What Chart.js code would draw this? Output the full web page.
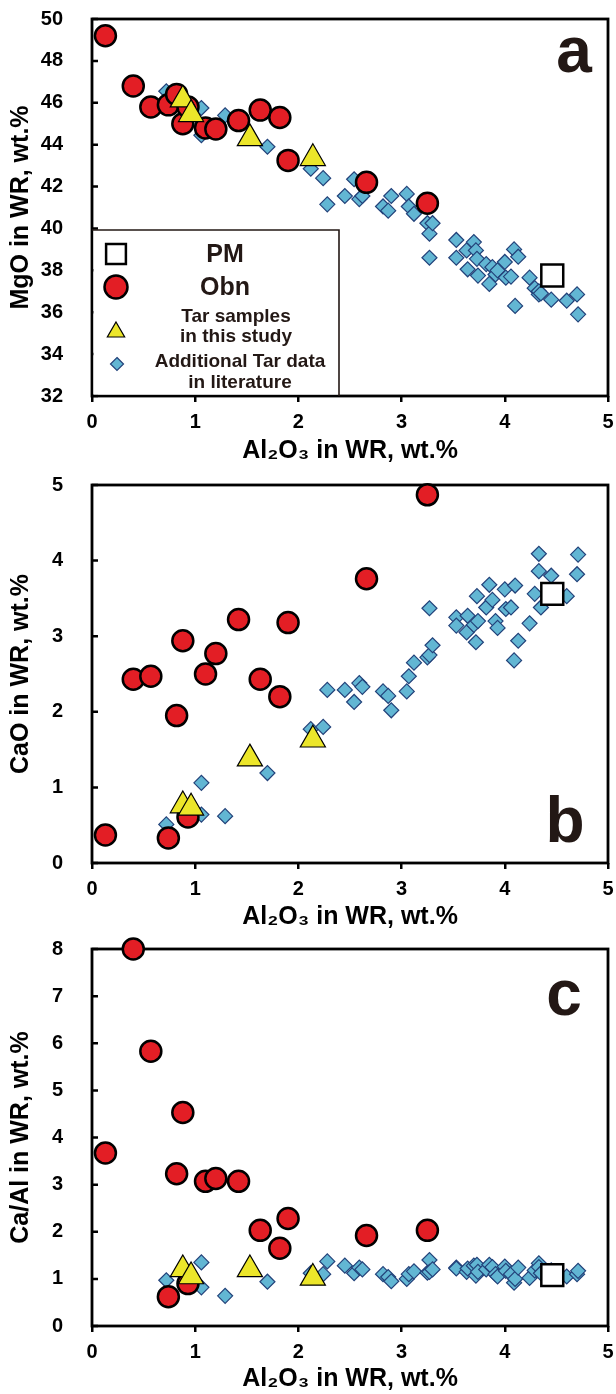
<!DOCTYPE html>
<html>
<head>
<meta charset="utf-8">
<script src="https://cdn.jsdelivr.net/npm/chart.js@4.4.1/dist/chart.umd.min.js"></script>
<style>
  body { margin: 0; background: #fff; }
  .panel { position: absolute; left: 0; width: 616px; }
</style>
</head>
<body>
<div class="panel" style="top:0"><canvas id="chartA" width="616" height="466"></canvas></div>
<div class="panel" style="top:466px"><canvas id="chartB" width="616" height="464"></canvas></div>
<div class="panel" style="top:930px"><canvas id="chartC" width="616" height="464"></canvas></div>
<script>
// PM
const pmAl2O3 = [4.46];
const pmMgO = [37.75];
const pmCaO = [3.56];
const pmCaAl = [1.08];

// Obn
const obnAl2O3 = [0.13, 0.40, 0.57, 0.74, 0.82, 0.88, 0.93, 1.10, 1.20, 1.42, 1.63, 1.82, 1.90, 2.66, 3.25];
const obnMgO   = [49.2, 46.8, 45.8, 45.9, 46.4, 45.0, 45.8, 44.8, 44.75, 45.15, 45.65, 45.3, 43.25, 42.2, 41.2];
const obnCaO   = [0.37, 2.43, 2.47, 0.33, 1.95, 2.94, 0.61, 2.50, 2.77, 3.22, 2.43, 2.20, 3.18, 3.76, 4.87];
const obnCaAl  = [3.67, 8.0, 5.83, 0.62, 3.23, 4.53, 0.90, 3.07, 3.13, 3.07, 2.03, 1.65, 2.28, 1.92, 2.03];

// Tar samples in this study
const tarAl2O3 = [0.88, 0.96, 1.53, 2.14];
const tarMgO   = [46.15, 45.45, 44.3, 43.35];
const tarCaO   = [0.76, 0.73, 1.38, 1.63];
const tarCaAl  = [1.2, 1.05, 1.2, 1.02];

// Additional Tar data in literature
const litAl2O3 = [0.72, 1.06, 1.06, 1.29, 1.70, 2.12, 2.24, 2.28, 2.45, 2.54, 2.59, 2.62, 2.82, 2.87, 2.90,
                  3.05, 3.07, 3.12, 3.25, 3.27, 3.27, 3.30, 3.53, 3.53, 3.63, 3.64, 3.70, 3.72, 3.73, 3.74,
                  3.82, 3.85, 3.88, 3.91, 3.93, 4.00, 4.01, 4.06, 4.09, 4.10, 4.13, 4.24, 4.29, 4.33, 4.33,
                  4.35, 4.45, 4.60, 4.70, 4.71];
const litMgO   = [46.55, 45.75, 44.45, 45.4, 43.9, 42.85, 42.4, 41.15, 41.55, 42.35, 41.4, 41.55, 41.05, 40.85, 41.55,
                  41.65, 41.05, 40.7, 40.25, 39.75, 38.6, 40.25, 39.45, 38.6, 38.95, 38.05, 39.35, 38.95, 38.55, 37.75,
                  38.3, 37.35, 38.15, 37.8, 38.0, 38.4, 37.65, 37.7, 39.0, 36.3, 38.65, 37.65, 37.15, 36.85, 37.0,
                  36.9, 36.6, 36.55, 36.85, 35.9];
const litCaO   = [0.51, 1.06, 0.64, 0.62, 1.19, 1.77, 1.80, 2.29, 2.29, 2.13, 2.38, 2.33, 2.27, 2.21, 2.02,
                  2.27, 2.47, 2.65, 2.72, 3.37, 2.75, 2.88, 3.25, 3.14, 3.05, 3.27, 3.15, 2.92, 3.53, 3.20,
                  3.38, 3.68, 3.48, 3.20, 3.11, 3.62, 3.36, 3.38, 2.68, 3.67, 2.94, 3.17, 3.56, 4.09, 3.86,
                  3.38, 3.80, 3.53, 3.82, 4.08];
const litCaAl  = [0.97, 1.35, 0.82, 0.64, 0.94, 1.12, 1.10, 1.37, 1.28, 1.12, 1.24, 1.20, 1.10, 1.04, 0.95,
                  1.00, 1.10, 1.16, 1.13, 1.40, 1.15, 1.20, 1.24, 1.22, 1.15, 1.22, 1.28, 1.07, 1.30, 1.15,
                  1.20, 1.30, 1.25, 1.10, 1.05, 1.26, 1.17, 1.10, 0.92, 1.00, 1.24, 1.02, 1.18, 1.33, 1.25,
                  1.12, 1.18, 1.05, 1.10, 1.17];

// axes
const xRange = [0, 5, 1];
const mgoRange = [32, 50, 2];
const caoRange = [0, 5, 1];
const caalRange = [0, 8, 1];
const xTitle = 'Al₂O₃ in WR, wt.%';
const legendLabels = [['PM'], ['Obn'], ['Tar samples', 'in this study'], ['Additional Tar data', 'in literature']];

const FONT = "'Liberation Sans', Arial, Helvetica, sans-serif";
const TEXT = '#231815';
const RED = '#e31e25';
const YELLOW = '#ece62a';
const BLUE = '#62b6d3';
const NAVY = '#23427a';

const pts = (xs, ys) => xs.map((x, i) => ({ x: x, y: ys[i] }));

function marker(ctx, style, x, y, r, fill, stroke, lw) {
    ctx.save();
    ctx.beginPath();
    if (style === 'rect') {
        const s = r * Math.SQRT1_2;
        ctx.rect(x - s, y - s, 2 * s, 2 * s);
    } else if (style === 'circle') {
        ctx.arc(x, y, r, 0, Math.PI * 2);
    } else if (style === 'triangle') {
        ctx.moveTo(x, y - r);
        ctx.lineTo(x + r * Math.sin(2 * Math.PI / 3), y - r * Math.cos(2 * Math.PI / 3));
        ctx.lineTo(x + r * Math.sin(4 * Math.PI / 3), y - r * Math.cos(4 * Math.PI / 3));
        ctx.closePath();
    } else {
        ctx.moveTo(x, y - r); ctx.lineTo(x + r, y); ctx.lineTo(x, y + r); ctx.lineTo(x - r, y);
        ctx.closePath();
    }
    ctx.fillStyle = fill;
    ctx.fill();
    ctx.lineWidth = lw;
    ctx.strokeStyle = stroke;
    ctx.stroke();
    ctx.restore();
}

// box frame, inner y ticks, panel letter, legend
const framePlugin = {
    id: 'frame',
    beforeDatasetsDraw(chart, args, opts) {
        const { ctx, chartArea: a } = chart;
        const ys = chart.scales.y;
        ctx.save();
        ctx.strokeStyle = '#000';
        ctx.lineWidth = 2.5;
        ctx.beginPath();
        ys.ticks.forEach((t, i) => {
            const py = ys.getPixelForTick(i);
            ctx.moveTo(a.left, py);
            ctx.lineTo(a.left + 6, py);
        });
        ctx.stroke();
        ctx.lineWidth = 2.8;
        ctx.strokeRect(a.left, a.top, a.right - a.left, a.bottom - a.top);
        ctx.restore();
    },
    afterDatasetsDraw(chart, args, opts) {
        const { ctx, chartArea: a } = chart;
        ctx.save();
        ctx.fillStyle = TEXT;
        ctx.font = 'bold 64px ' + FONT;
        ctx.textAlign = 'center';
        ctx.textBaseline = 'alphabetic';
        ctx.fillText(opts.letter, a.right + opts.letterDx, opts.letterFromTop ? a.top + opts.letterDy : a.bottom + opts.letterDy);

        if (opts.legend) {
            const L = a.left, T = a.top + 211, R = a.left + 247, B = a.bottom;
            ctx.fillStyle = '#fff';
            ctx.fillRect(L + 1.5, T, R - L - 1.5, B - T - 1.5);
            ctx.strokeStyle = TEXT;
            ctx.lineWidth = 1.6;
            ctx.beginPath();
            ctx.moveTo(L, T); ctx.lineTo(R, T); ctx.lineTo(R, B);
            ctx.stroke();

            marker(ctx, 'rect', L + 24, T + 24, 14, '#fff', '#000', 2.5);
            marker(ctx, 'circle', L + 24, T + 57, 11.5, RED, '#000', 2.5);
            marker(ctx, 'triangle', L + 24, T + 102, 10, YELLOW, '#000', 1.2);
            marker(ctx, 'rectRot', L + 25, T + 134, 6.5, BLUE, NAVY, 1.2);

            ctx.fillStyle = TEXT;
            ctx.textAlign = 'center';
            ctx.textBaseline = 'middle';
            ctx.font = 'bold 25px ' + FONT;
            ctx.fillText(legendLabels[0][0], L + 133, T + 25);
            ctx.fillText(legendLabels[1][0], L + 133, T + 58);
            ctx.font = 'bold 19px ' + FONT;
            ctx.fillText(legendLabels[2][0], L + 144, T + 87);
            ctx.fillText(legendLabels[2][1], L + 144, T + 107);
            ctx.fillText(legendLabels[3][0], L + 148, T + 132);
            ctx.fillText(legendLabels[3][1], L + 148, T + 153);
        }
        ctx.restore();
    }
};

function makeChart(id, yTitle, yRange, ys, xHeight, titlePad, frameOpts) {
    return new Chart(document.getElementById(id), {
        type: 'scatter',
        data: {
            datasets: [
                { label: 'PM', data: pts(pmAl2O3, ys.pm), pointStyle: 'rect', pointRadius: 15.5,
                  backgroundColor: '#fff', borderColor: '#000', borderWidth: 2.5, clip: false },
                { label: 'Tar samples in this study', data: pts(tarAl2O3, ys.tar), pointStyle: 'triangle', pointRadius: 14.5,
                  backgroundColor: YELLOW, borderColor: '#000', borderWidth: 1.2, clip: false },
                { label: 'Obn', data: pts(obnAl2O3, ys.obn), pointStyle: 'circle', pointRadius: 10.5,
                  backgroundColor: RED, borderColor: '#000', borderWidth: 2.5, clip: false },
                { label: 'Additional Tar data in literature', data: pts(litAl2O3, ys.lit), pointStyle: 'rectRot', pointRadius: 7.5,
                  backgroundColor: BLUE, borderColor: NAVY, borderWidth: 1.2, clip: false }
            ]
        },
        options: {
            responsive: false,
            animation: false,
            events: [],
            layout: { autoPadding: false, padding: { top: 19, right: 8, left: 0, bottom: 0 } },
            plugins: {
                legend: { display: false },
                tooltip: { enabled: false },
                frame: frameOpts
            },
            scales: {
                x: {
                    type: 'linear', min: xRange[0], max: xRange[1],
                    ticks: { stepSize: xRange[2], color: '#000', padding: 8, font: { family: FONT, size: 20, weight: 'bold' } },
                    grid: { display: true, drawOnChartArea: false, drawTicks: true, tickLength: 6, color: '#000', lineWidth: 2.5 },
                    border: { display: false },
                    title: { display: true, text: xTitle, color: '#000', padding: { top: 0, bottom: titlePad },
                             font: { family: FONT, size: 25, weight: 'bold', lineHeight: 1 } },
                    afterFit: s => { s.height = xHeight; s.paddingLeft = 0; s.paddingRight = 0; }
                },
                y: {
                    type: 'linear', min: yRange[0], max: yRange[1],
                    ticks: { stepSize: yRange[2], color: '#000', padding: 21, font: { family: FONT, size: 20, weight: 'bold' } },
                    grid: { display: false },
                    border: { display: false },
                    title: { display: true, text: yTitle, color: '#000', padding: { top: 9, bottom: 0 },
                             font: { family: FONT, size: 25, weight: 'bold', lineHeight: 1 } },
                    afterFit: s => { s.width = 92; s.paddingTop = 0; s.paddingBottom = 0; }
                }
            }
        },
        plugins: [framePlugin]
    });
}

makeChart('chartA', 'MgO in WR, wt.%', mgoRange,
    { pm: pmMgO, tar: tarMgO, obn: obnMgO, lit: litMgO }, 70, 2.5,
    { letter: 'a', letterDx: -34, letterDy: 53, letterFromTop: true, legend: true });
makeChart('chartB', 'CaO in WR, wt.%', caoRange,
    { pm: pmCaO, tar: tarCaO, obn: obnCaO, lit: litCaO }, 67, 0.5,
    { letter: 'b', letterDx: -43, letterDy: -21, letterFromTop: false, legend: false });
makeChart('chartC', 'Ca/Al in WR, wt.%', caalRange,
    { pm: pmCaAl, tar: tarCaAl, obn: obnCaAl, lit: litCaAl }, 68, 2.5,
    { letter: 'c', letterDx: -44, letterDy: 66, letterFromTop: true, legend: false });
</script>
</body>
</html>
